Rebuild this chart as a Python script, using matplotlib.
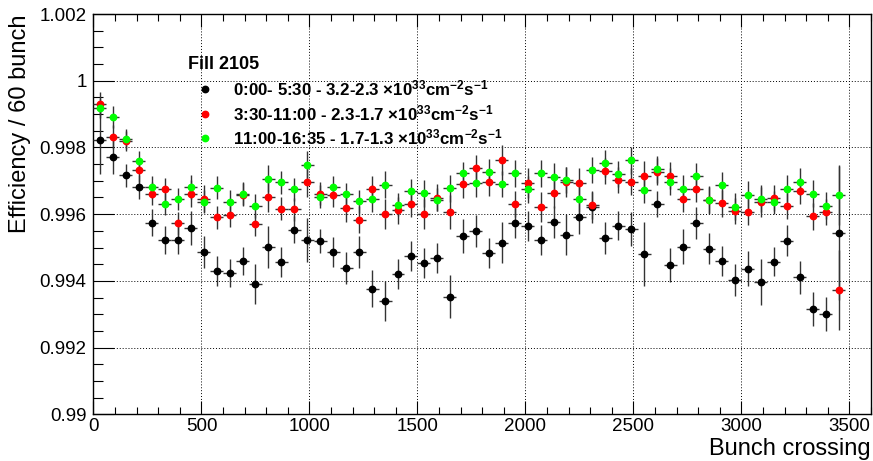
import matplotlib
matplotlib.use("Agg")
import matplotlib.pyplot as plt
from matplotlib.ticker import MultipleLocator, FuncFormatter
import numpy as np

plt.rcParams['font.family'] = ['Liberation Sans', 'DejaVu Sans']
plt.rcParams['mathtext.fontset'] = 'custom'
plt.rcParams['mathtext.rm'] = 'Liberation Sans:bold'
plt.rcParams['mathtext.it'] = 'Liberation Sans:bold'
plt.rcParams['mathtext.bf'] = 'Liberation Sans:bold'

bunch = [30, 90, 150, 210, 270, 330, 390, 450, 510, 570, 630, 690, 750, 810, 870,
         930, 990, 1050, 1110, 1170, 1230, 1290, 1350, 1410, 1470, 1530, 1590, 1650, 1710, 1770,
         1830, 1890, 1950, 2010, 2070, 2130, 2190, 2250, 2310, 2370, 2430, 2490, 2550, 2610, 2670,
         2730, 2790, 2850, 2910, 2970, 3030, 3090, 3150, 3210, 3270, 3330, 3390, 3450]

eff_black = [0.99821, 0.99771, 0.99716, 0.99681, 0.99574, 0.99522, 0.99522, 0.99559, 0.99488, 0.99430,
             0.99425, 0.99459, 0.99391, 0.99501, 0.99457, 0.99554, 0.99523, 0.99520, 0.99486, 0.99439,
             0.99486, 0.99377, 0.99340, 0.99422, 0.99476, 0.99453, 0.99469, 0.99353, 0.99534, 0.99550,
             0.99484, 0.99515, 0.99573, 0.99565, 0.99523, 0.99577, 0.99539, 0.99590, 0.99620, 0.99528,
             0.99565, 0.99555, 0.99481, 0.99630, 0.99448, 0.99503, 0.99573, 0.99497, 0.99461, 0.99403,
             0.99437, 0.99397, 0.99458, 0.99521, 0.99411, 0.99316, 0.99301, 0.99543]
err_black = [1.0, 0.5, 0.35, 0.35, 0.4, 0.42, 0.42, 0.5, 0.48, 0.44, 0.42, 0.42, 0.6, 0.62, 0.45,
             0.4, 0.65, 0.35, 0.45, 0.48, 0.48, 0.55, 0.6, 0.45, 0.45, 0.45, 0.45, 0.65, 0.5, 0.48,
             0.45, 0.62, 0.45, 0.45, 0.45, 0.48, 0.6, 0.48, 0.48, 0.48, 0.43, 0.5, 0.95, 0.4, 0.5,
             0.53, 0.47, 0.46, 0.45, 0.48, 0.52, 0.7, 0.44, 0.45, 0.5, 0.52, 0.52, 2.0]

eff_red = [0.99931, 0.99831, 0.99820, 0.99732, 0.99661, 0.99674, 0.99572, 0.99661, 0.99646, 0.99590,
           0.99596, 0.99658, 0.99569, 0.99651, 0.99616, 0.99614, 0.99695, 0.99661, 0.99656, 0.99617,
           0.99583, 0.99674, 0.99601, 0.99611, 0.99630, 0.99601, 0.99649, 0.99607, 0.99689, 0.99738,
           0.99695, 0.99761, 0.99630, 0.99694, 0.99621, 0.99664, 0.99695, 0.99694, 0.99626, 0.99729,
           0.99702, 0.99697, 0.99714, 0.99727, 0.99715, 0.99645, 0.99676, 0.99641, 0.99632, 0.99609,
           0.99606, 0.99635, 0.99648, 0.99624, 0.99669, 0.99593, 0.99606, 0.99373]
err_red = [0.35, 0.35, 0.3, 0.35, 0.35, 0.35, 0.35, 0.4, 0.4, 0.35, 0.35, 0.35, 0.35, 0.45, 0.35,
           0.35, 0.45, 0.35, 0.35, 0.4, 0.4, 0.4, 0.45, 0.4, 0.4, 0.45, 0.4, 0.5, 0.4, 0.4,
           0.4, 0.45, 0.4, 0.45, 0.45, 0.45, 0.45, 0.45, 0.4, 0.4, 0.4, 0.4, 0.45, 0.4, 0.4,
           0.4, 0.4, 0.4, 0.4, 0.4, 0.4, 0.45, 0.4, 0.4, 0.4, 0.4, 0.4, 1.2]

eff_green = [0.99917, 0.99891, 0.99826, 0.99758, 0.99682, 0.99631, 0.99646, 0.99681, 0.99637, 0.99679,
             0.99637, 0.99661, 0.99624, 0.99706, 0.99695, 0.99674, 0.99748, 0.99652, 0.99680, 0.99659,
             0.99638, 0.99646, 0.99688, 0.99628, 0.99670, 0.99662, 0.99643, 0.99677, 0.99722, 0.99692,
             0.99726, 0.99690, 0.99722, 0.99674, 0.99722, 0.99712, 0.99702, 0.99645, 0.99732, 0.99752,
             0.99720, 0.99761, 0.99672, 0.99734, 0.99697, 0.99676, 0.99714, 0.99643, 0.99686, 0.99622,
             0.99658, 0.99646, 0.99635, 0.99676, 0.99697, 0.99661, 0.99625, 0.99658]
err_green = [0.3, 0.33, 0.3, 0.3, 0.33, 0.33, 0.33, 0.35, 0.35, 0.35, 0.35, 0.35, 0.35, 0.4, 0.35,
             0.35, 0.4, 0.35, 0.35, 0.35, 0.35, 0.4, 0.4, 0.35, 0.35, 0.4, 0.35, 0.4, 0.35, 0.4,
             0.4, 0.4, 0.4, 0.4, 0.4, 0.4, 0.4, 0.4, 0.4, 0.4, 0.4, 0.4, 0.4, 0.4, 0.4,
             0.4, 0.4, 0.4, 0.4, 0.4, 0.4, 0.4, 0.35, 0.4, 0.4, 0.4, 0.4, 0.9]

bin_half = 30
labels = ["0:00- 5:30 - 3.2-2.3 $\\times$10$^{33}$cm$^{-2}$s$^{-1}$",
          "3:30-11:00 - 2.3-1.7 $\\times$10$^{33}$cm$^{-2}$s$^{-1}$",
          "11:00-16:35 - 1.7-1.3 $\\times$10$^{33}$cm$^{-2}$s$^{-1}$"]
colors = ['#000000', '#ff0000', '#00ff00']

fig = plt.figure(figsize=(8.73, 4.61), dpi=100)
ax = fig.add_axes([0.1071, 0.1013, 0.8906, 0.8683])

series = [(eff_black, err_black), (eff_red, err_red), (eff_green, err_green)]
for (vals, errs), c in zip(series, colors):
    ax.errorbar(bunch, vals, xerr=bin_half, yerr=np.array(errs) * 1e-3, fmt='o',
                color=c, mec=c, mfc=c, ms=4.6, ecolor='#333333', elinewidth=1.0,
                capsize=0, zorder=3)

ax.set_xlim(0, 3600)
ax.set_ylim(0.99, 1.002)
ax.xaxis.set_major_locator(MultipleLocator(500))
ax.xaxis.set_minor_locator(MultipleLocator(100))
ax.yaxis.set_major_locator(MultipleLocator(0.002))
ax.yaxis.set_minor_locator(MultipleLocator(0.0005))
ax.yaxis.set_major_formatter(FuncFormatter(lambda v, p: '%g' % round(v, 4)))

ax.tick_params(axis='x', which='major', direction='in', length=9.4, width=0.8,
               top=True, labelsize=13.5, pad=3)
ax.tick_params(axis='x', which='minor', direction='in', length=4.7, width=0.8, top=True)
ax.tick_params(axis='y', which='major', direction='in', length=15, width=0.8,
               right=False, labelsize=13.5, pad=5)
ax.tick_params(axis='y', which='minor', direction='in', length=7.5, width=0.8, right=False)

ax.grid(True, which='major', color='black', linestyle=(0, (1, 2)), linewidth=0.7)
ax.set_axisbelow(True)
for s in ax.spines.values():
    s.set_linewidth(1.0)

ax.set_ylabel('Efficiency / 60 bunch', fontsize=17, loc='top', labelpad=6)
ax.set_xlabel('Bunch crossing', fontsize=17, loc='right', labelpad=2)

# legend block
ax.text(0.1215, 0.875, 'Fill 2105', transform=ax.transAxes, fontsize=13,
        fontweight='bold', va='center', ha='left')
leg_y = [0.813, 0.751, 0.691]
for yy, c, lab in zip(leg_y, colors, labels):
    ax.plot([0.1434], [yy], 'o', color=c, ms=4.6, transform=ax.transAxes, clip_on=False)
    ax.text(0.1794, yy, lab, transform=ax.transAxes, fontsize=12.2,
            fontweight='bold', va='center', ha='left')

fig.savefig('out.png', dpi=100)
